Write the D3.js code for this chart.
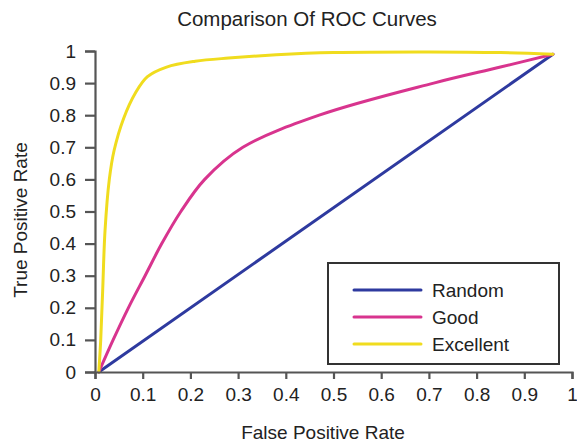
<!DOCTYPE html>
<html>
<head>
<meta charset="utf-8">
<script src="https://cdn.jsdelivr.net/npm/d3@7"></script>
<style>
  html, body { margin: 0; padding: 0; background: #fff; }
  svg { display: block; font-family: "Liberation Sans", Arial, Helvetica, sans-serif; }
</style>
</head>
<body>
<svg id="chart" width="577" height="445"></svg>
<script>
// ROC curves: false positive rate (x) vs true positive rate (y)
const seriesNames = ["Random", "Good", "Excellent"];
const seriesColors = ["#2e3a9f", "#d8348e", "#f0dc1e"];

const randomFpr = [0.008, 0.96];
const randomTpr = [0.0, 0.99];

const goodFpr = [0.008, 0.038, 0.07, 0.105, 0.14, 0.18, 0.23, 0.31, 0.47, 0.71, 0.85, 0.96];
const goodTpr = [0.0, 0.1, 0.2, 0.3, 0.4, 0.5, 0.6, 0.7, 0.8, 0.9, 0.95, 0.99];

const excellentFpr = [0.008, 0.012, 0.016, 0.021, 0.03, 0.04, 0.06, 0.085, 0.11, 0.15, 0.21, 0.28, 0.38, 0.5, 0.7, 0.85, 0.96];
const excellentTpr = [0.0, 0.1, 0.25, 0.44, 0.6, 0.69, 0.79, 0.87, 0.92, 0.95, 0.968, 0.978, 0.988, 0.995, 0.997, 0.995, 0.99];

const xTicks = [0, 0.1, 0.2, 0.3, 0.4, 0.5, 0.6, 0.7, 0.8, 0.9, 1];
const yTicks = [0, 0.1, 0.2, 0.3, 0.4, 0.5, 0.6, 0.7, 0.8, 0.9, 1];

const titleText = "Comparison Of ROC Curves";
const xLabel = "False Positive Rate";
const yLabel = "True Positive Rate";

const series = [
  { name: seriesNames[0], color: seriesColors[0], pts: d3.zip(randomFpr, randomTpr) },
  { name: seriesNames[1], color: seriesColors[1], pts: d3.zip(goodFpr, goodTpr) },
  { name: seriesNames[2], color: seriesColors[2], pts: d3.zip(excellentFpr, excellentTpr) }
];

const svg = d3.select("#chart");
const plotLeft = 95, plotRight = 572, plotTop = 51, plotBottom = 372;

const x = d3.scaleLinear().domain([0, 1]).range([plotLeft, plotRight]);
const y = d3.scaleLinear().domain([0, 1]).range([plotBottom, plotTop]);

const textColor = "#222";
const axisColor = "#555";

// Title
svg.append("text")
  .attr("x", 307).attr("y", 26)
  .attr("text-anchor", "middle")
  .attr("font-size", 20.5)
  .attr("fill", textColor)
  .text(titleText);

// Curves
const line = d3.line()
  .x(d => x(d[0]))
  .y(d => y(d[1]))
  .curve(d3.curveCatmullRom.alpha(0.5));

svg.append("g").selectAll("path")
  .data(series)
  .join("path")
  .attr("d", d => line(d.pts))
  .attr("fill", "none")
  .attr("stroke", d => d.color)
  .attr("stroke-width", 3)
  .attr("stroke-linecap", "round")
  .attr("stroke-linejoin", "round");

// Axes
const xAxis = d3.axisBottom(x).tickValues(xTicks).tickFormat(d3.format("")).tickSize(7).tickPadding(9);
const yAxis = d3.axisLeft(y).tickValues(yTicks).tickFormat(d3.format("")).tickSize(10).tickPadding(9);

function styleAxis(g) {
  g.select(".domain").attr("stroke", axisColor).attr("stroke-width", 2.2);
  g.selectAll(".tick line").attr("stroke", axisColor).attr("stroke-width", 2.2);
  g.selectAll(".tick text").attr("fill", textColor).attr("font-size", 19)
    .attr("font-family", "Liberation Sans, Arial, sans-serif");
}

svg.append("g")
  .attr("transform", `translate(0,${plotBottom})`)
  .call(xAxis.tickSizeOuter(7))
  .call(styleAxis);

svg.append("g")
  .attr("transform", `translate(${plotLeft},0)`)
  .call(yAxis.tickSizeOuter(10))
  .call(styleAxis);

// Axis titles
svg.append("text")
  .attr("x", 323).attr("y", 439)
  .attr("text-anchor", "middle")
  .attr("font-size", 19)
  .attr("fill", textColor)
  .text(xLabel);

svg.append("text")
  .attr("transform", `translate(27,220) rotate(-90)`)
  .attr("text-anchor", "middle")
  .attr("font-size", 19)
  .attr("fill", textColor)
  .text(yLabel);

// Legend
const legend = svg.append("g");
legend.append("rect")
  .attr("x", 328).attr("y", 263)
  .attr("width", 231).attr("height", 101)
  .attr("fill", "#fff")
  .attr("stroke", "#333")
  .attr("stroke-width", 2);

const legendY = d3.scalePoint().domain(seriesNames).range([290, 344]);
const items = legend.selectAll("g.item")
  .data(series)
  .join("g")
  .attr("class", "item")
  .attr("transform", d => `translate(0,${legendY(d.name)})`);

items.append("line")
  .attr("x1", 354).attr("x2", 421)
  .attr("stroke", d => d.color)
  .attr("stroke-width", 3)
  .attr("stroke-linecap", "round");

items.append("text")
  .attr("x", 432).attr("y", 0)
  .attr("dy", "0.35em")
  .attr("font-size", 19)
  .attr("fill", textColor)
  .text(d => d.name);
</script>
</body>
</html>
